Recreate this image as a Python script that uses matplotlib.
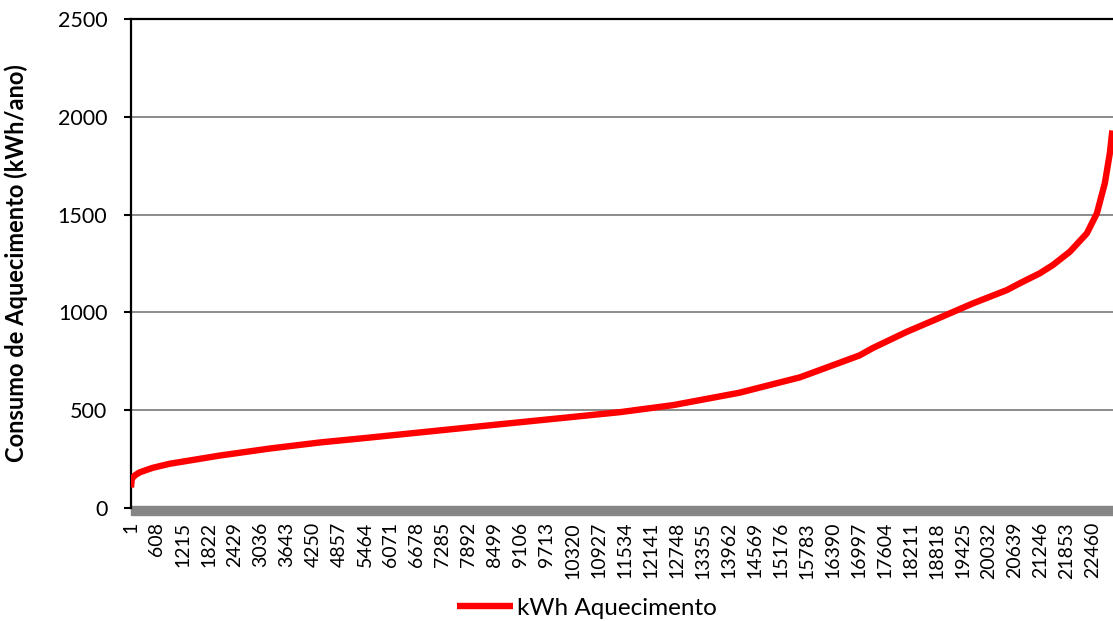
import matplotlib.pyplot as plt
from matplotlib.patches import Rectangle
from matplotlib.transforms import blended_transform_factory

plt.rcParams['font.family'] = ['Lato', 'DejaVu Sans']

# sorted annual heating consumption per dwelling (sampled along the ranking)
idx = [1, 20, 100, 200, 500, 900, 2070, 3240, 4410, 5570, 8610, 11420,
       12660, 14200, 15620, 16553, 17010, 17323, 18117, 18887, 19658,
       20451, 20755, 21222, 21525, 21922, 22319, 22553, 22740, 22857, 22915]
kwh = [105, 150, 168, 182, 205, 226, 268, 304, 335, 360, 428, 490,
       526, 589, 668, 743, 780, 818, 901, 973, 1046,
       1114, 1149, 1200, 1242, 1310, 1404, 1506, 1661, 1815, 1930]
n_total = 22930
tick_step = 607
tick_pos = list(range(1, 22461, tick_step))

fig = plt.figure(figsize=(11.13, 6.21), dpi=100)
ax = fig.add_axes([131 / 1113, 1 - 508 / 621, 1 - 131 / 1113, (508 - 19) / 621])

line, = ax.plot(idx, kwh, color='#ff0000', lw=4.6, solid_capstyle='butt',
                label='kWh Aquecimento', zorder=3)

ax.set_xlim(1, n_total)
ax.set_ylim(0, 2500)
ax.set_yticks(range(0, 2501, 500))
ax.yaxis.grid(True, color='#8c8c8c', lw=1.4)
ax.set_axisbelow(True)

ax.set_xticks(tick_pos)
ax.set_xticklabels([str(t) for t in tick_pos], rotation=90, va='top', ha='center')
ax.tick_params(axis='x', length=0, pad=10, labelsize=14)
ax.tick_params(axis='y', length=5, width=1.5, pad=12, labelsize=15.5, direction='out')

for side in ['right', 'bottom']:
    ax.spines[side].set_visible(False)
ax.spines['left'].set_linewidth(1.6)
ax.spines['top'].set_linewidth(1.6)

# dense category tick marks form a grey band under the axis
trans = blended_transform_factory(ax.transData, ax.transAxes)
ax.add_patch(Rectangle((1, -7 / 489), n_total, 9 / 489, transform=trans,
                       color='#868686', clip_on=False, zorder=2))

ax.set_ylabel('Consumo de Aquecimento (kWh/ano)', fontsize=17, fontweight='bold')
ax.yaxis.set_label_coords(-103 / 982, 0.5)

fig.legend(handles=[line], loc='center', bbox_to_anchor=(587 / 1113, 1 - 608 / 621),
           frameon=False, fontsize=17.5, handlelength=2.3, handletextpad=0.15)

fig.savefig('out.png', dpi=100)
